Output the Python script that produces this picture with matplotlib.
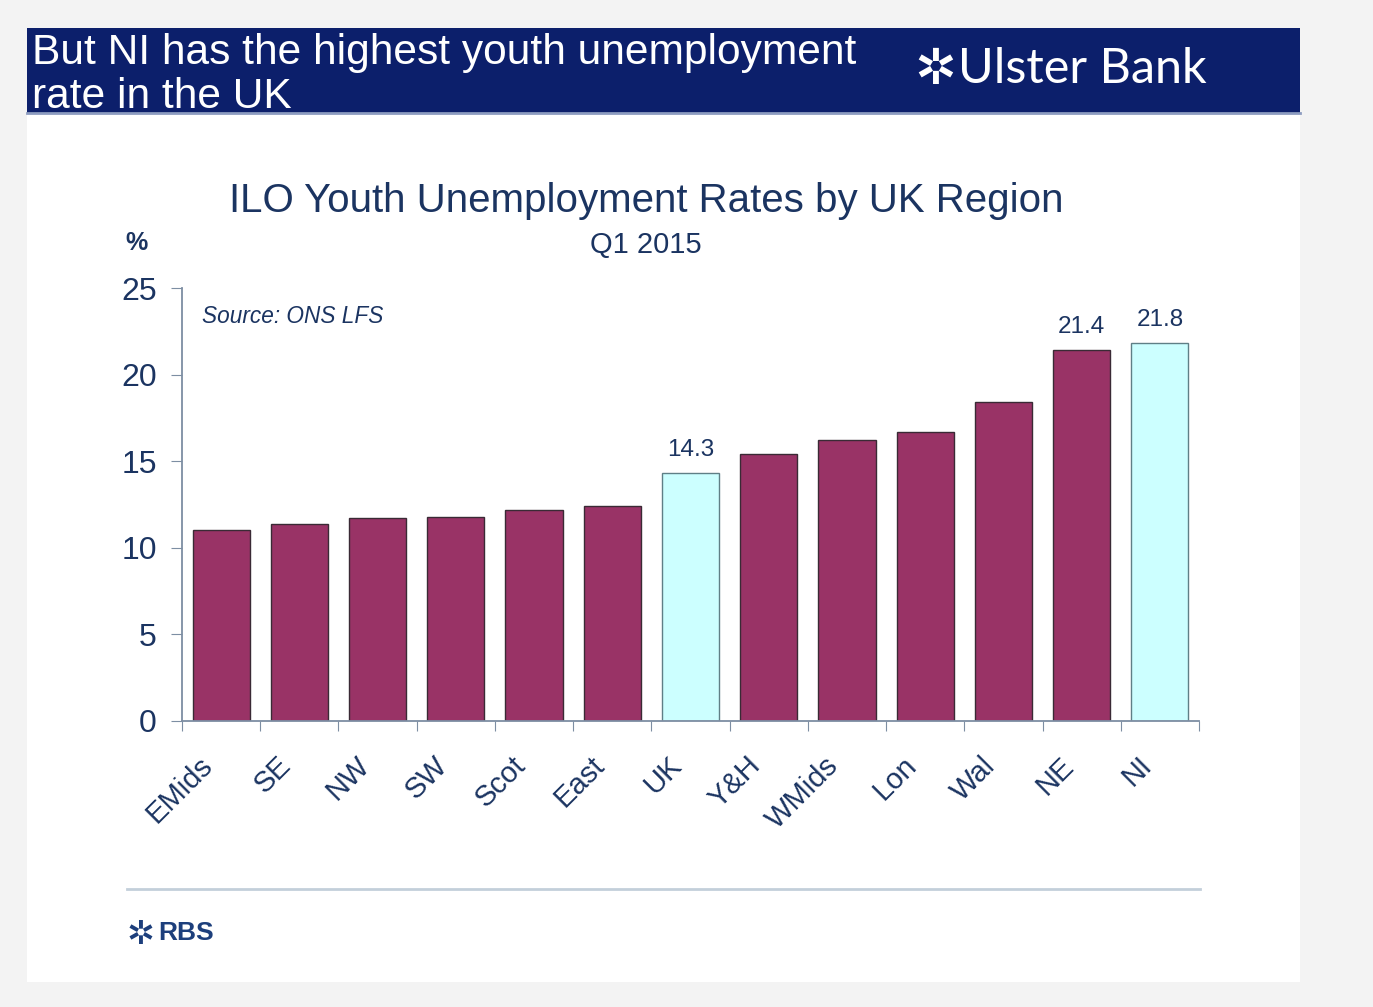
import matplotlib
matplotlib.use("Agg")
import matplotlib.pyplot as plt
from matplotlib.patches import Rectangle
from matplotlib.lines import Line2D

# Data
regions = ["EMids", "SE", "NW", "SW", "Scot", "East", "UK", "Y&H",
           "WMids", "Lon", "Wal", "NE", "NI"]
rates = [11.0, 11.4, 11.7, 11.8, 12.2, 12.4, 14.3, 15.4,
         16.2, 16.7, 18.4, 21.4, 21.8]
highlight = ["UK", "NI"]
labelled = ["UK", "NE", "NI"]
y_ticks = [0, 5, 10, 15, 20, 25]

W, H = 1373, 1007
fig = plt.figure(figsize=(W / 100, H / 100), dpi=100)
fig.patch.set_facecolor("#f3f3f3")

NAVY = "#0c1f6b"
TEXT = "#1b3461"
MAROON = "#993366"
CYAN = "#ccffff"


def fx(px):
    return px / W


def fy(py):
    return 1 - py / H


def frect(x0, y0, x1, y1, **kw):
    fig.patches.append(Rectangle((fx(x0), fy(y1)), fx(x1) - fx(x0), fy(y0) - fy(y1),
                                 transform=fig.transFigure, **kw))


# slide panel and header band
frect(27, 28, 1300, 982, facecolor="white", edgecolor="none", zorder=-2)
frect(27, 28, 1300, 113, facecolor=NAVY, edgecolor="none", zorder=-1)
fig.add_artist(Line2D([fx(27), fx(1300)], [fy(113), fy(113)], color="#8d9cc0",
                      lw=2, transform=fig.transFigure, zorder=2))

arial = ["Liberation Sans", "DejaVu Sans"]
fig.text(fx(32), fy(53), "But NI has the highest youth unemployment", color="white",
         fontsize=30.6, family=arial, va="center", ha="left", zorder=3)
fig.text(fx(32), fy(97), "rate in the UK", color="white",
         fontsize=30.6, family=arial, va="center", ha="left", zorder=3)
fig.text(fx(914), fy(70), "\u2732", color="white", fontsize=36,
         family=["DejaVu Sans"], va="center", ha="left", zorder=3, fontweight="bold")
fig.text(fx(958), fy(69), "Ulster Bank", color="white", fontsize=35,
         family=["Lato", "Open Sans", "DejaVu Sans"], va="center", ha="left", zorder=3)

# chart titles
fig.text(fx(646), fy(201), "ILO Youth Unemployment Rates by UK Region", color=TEXT,
         fontsize=29, family=arial, ha="center", va="center")
fig.text(fx(646), fy(245), "Q1 2015", color=TEXT, fontsize=21, family=arial,
         ha="center", va="center")
fig.text(fx(137), fy(243), "%", color=TEXT, fontsize=18, family=arial,
         fontweight="bold", ha="center", va="center")

# axes
ax = fig.add_axes([fx(182), fy(721), fx(1199) - fx(182), fy(288) - fy(721)])
ax.set_zorder(5)
ax.set_facecolor("none")
colors = [CYAN if r in highlight else MAROON for r in regions]
edges = ["#5f7f86" if r in highlight else "#3a2a35" for r in regions]
x = list(range(len(regions)))
bars = ax.bar(x, rates, width=0.73, color=colors, edgecolor=edges, linewidth=1.0, zorder=2)

for xi, r, v in zip(x, regions, rates):
    if r in labelled:
        ax.annotate(f"{v:.1f}", (xi, v), xytext=(0, 9), textcoords="offset points",
                    ha="center", va="bottom", fontsize=17.5, color=TEXT, family=arial)

ax.set_xlim(-0.5, len(regions) - 0.5)
ax.set_ylim(0, 25)
ax.set_yticks(y_ticks)
ax.set_yticklabels([str(t) for t in y_ticks], fontsize=23, color=TEXT, family=arial)
# category boundaries carry the tick marks; labels sit slightly left of each bar centre
ax.set_xticks([i - 0.5 for i in range(len(regions) + 1)])
ax.set_xticklabels([])
ax.set_xticks([i - 0.16 for i in x], minor=True)
ax.set_xticklabels(regions, minor=True, rotation=45, ha="right", va="center",
                   rotation_mode="anchor", fontsize=21, color=TEXT, family=arial)
ax.tick_params(axis="x", which="minor", length=0, pad=29)
ax.tick_params(axis="x", which="major", length=7, color="#7d8ea3", direction="out")
ax.tick_params(axis="y", length=8, color="#7d8ea3", direction="out", pad=10)
for s in ["top", "right"]:
    ax.spines[s].set_visible(False)
for s in ["left", "bottom"]:
    ax.spines[s].set_color("#7d8ea3")
    ax.spines[s].set_linewidth(1.3)

ax.text(0.02, 0.935, "Source: ONS LFS", transform=ax.transAxes, fontsize=16.3,
        style="italic", color=TEXT, family=arial, ha="left", va="center")

# footer
fig.add_artist(Line2D([fx(127), fx(1200)], [fy(889), fy(889)], color="#c3cfda",
                      lw=2, transform=fig.transFigure))
fig.text(fx(127), fy(934), "\u2732", color="#1d3f7c", fontsize=24, fontweight="bold",
         family=["DejaVu Sans"], ha="left", va="center")
fig.text(fx(158), fy(933), "RBS", color="#1d3f7c", fontsize=19, fontweight="bold",
         family=arial, ha="left", va="center")

fig.savefig("out.png", dpi=100, facecolor=fig.get_facecolor())
